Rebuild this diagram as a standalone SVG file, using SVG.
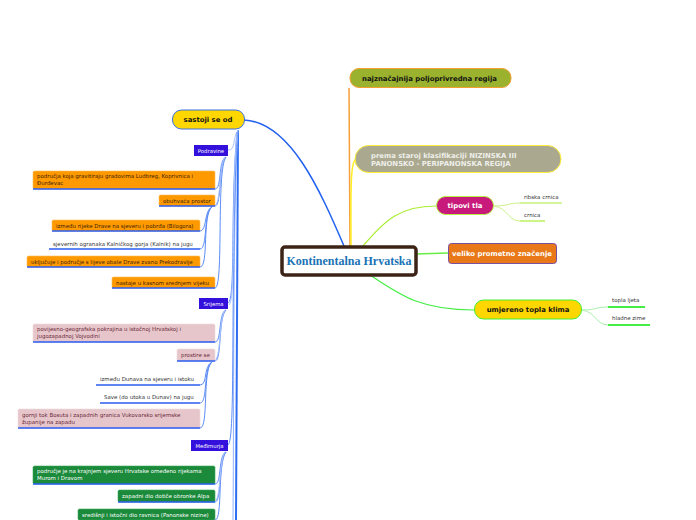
<svg xmlns="http://www.w3.org/2000/svg" width="696" height="520" viewBox="0 0 696 520">
<style>
text{font-family:"DejaVu Sans","Liberation Sans",sans-serif}
.m{font-size:6.9px;font-weight:bold}
.s{font-size:5.45px}
.cat{fill:#3410dc}
.ct{fill:#fff;font-size:5.3px}
.or{fill:#ff9900;stroke:#ffc060;stroke-width:0.6}
.ot{fill:#3a2200}
.pk{fill:#e6c6cb;stroke:#f0dadd;stroke-width:0.6}
.pt{fill:#6a2838}
.gr{fill:#1b8a3a;stroke:#3aa85a;stroke-width:0.6}
.gt{fill:#fff}
.ul{stroke:#2a5cf0;stroke-width:1.6;fill:none}
.bl{fill:none;stroke:#5b8cf5;stroke-width:1}
.bl2{fill:none;stroke:#a9c3ff;stroke-width:1}
</style>
<g id="connectors" fill="none">
<path d="M350,246 L349,88" stroke="#f5a03a" stroke-width="1.5"/>
<path d="M351,246 C351,200 350,165 355,160" stroke="#ffee22" stroke-width="1.5"/>
<path d="M363,246 C385,220 400,206 436,206" stroke="#aaee33" stroke-width="1.2"/>
<path d="M416,254 L448,253" stroke="#66ee44" stroke-width="1.5"/>
<path d="M370,275 C400,295 420,310 474,310" stroke="#44ee44" stroke-width="1.2"/>
<path d="M344,246 C320,190 290,122 244,120" stroke="#2060ee" stroke-width="1.5"/>
<path d="M494,206 C508,206 508,203 520,203" stroke="#ccf088" stroke-width="1"/>
<path d="M494,206 C508,208 508,221 520,221" stroke="#ccf088" stroke-width="1"/>
<path d="M520,203 L562,203" stroke="#aaee33" stroke-width="1.2"/>
<path d="M520,221 L545,221" stroke="#aaee33" stroke-width="1.2"/>
<path d="M582,310 C596,310 596,307 608,307" stroke="#aaf0aa" stroke-width="1"/>
<path d="M582,310 C596,312 596,325 608,325" stroke="#aaf0aa" stroke-width="1"/>
<path d="M608,307 L645,307" stroke="#44ee44" stroke-width="2"/>
<path d="M608,325 L650,325" stroke="#44ee44" stroke-width="2"/>
<path d="M238,130 L236,520" stroke="#2f6ef0" stroke-width="2"/>
<path d="M238,130 C233,200 234,400 233,520" stroke="#8fb2ff" stroke-width="1"/>
<path d="M238,130 C232,140 236,150 228,150" class="bl2"/>
<path d="M237,132 C230,210 236,300 228,303" class="bl"/>
<path d="M237,132 C230,300 236,440 228,445" class="bl"/>
<path d="M237,132 C231,200 236,300 229,305" class="bl2"/>
<path d="M226,157 C218,160 222,189 215,189" class="bl"/>
<path d="M226,157 C218,165 222,206 215,206" class="bl"/>
<path d="M226,157 C216,170 224,288 215,288" class="bl"/>
<path d="M225,157 C219,165 221,206 214,206" class="bl2"/>
<path d="M212,207 C204,210 207,231 200,231" class="bl"/>
<path d="M212,207 C203,212 208,249 200,249" class="bl"/>
<path d="M212,207 C202,214 209,267 200,267" class="bl"/>
<path d="M226,310 C218,313 222,342 215,342" class="bl"/>
<path d="M226,310 C218,318 222,361 215,361" class="bl"/>
<path d="M225,310 C219,318 221,361 214,361" class="bl2"/>
<path d="M212,362 C203,366 208,385 200,385" class="bl"/>
<path d="M212,362 C203,368 208,403 200,403" class="bl"/>
<path d="M212,362 C202,370 209,428 200,428" class="bl"/>
<path d="M226,452 C218,455 222,484 215,484" class="bl"/>
<path d="M226,452 C218,460 222,502 215,502" class="bl"/>
<path d="M226,452 C217,464 223,520 215,520" class="bl"/>
<path d="M225,452 C219,460 221,502 214,502" class="bl2"/>
</g>
<g id="center">
<rect x="282" y="247" width="134" height="28" rx="3" fill="#fff" stroke="#3d2316" stroke-width="3.5"/>
<text x="349" y="265" text-anchor="middle" style="font-family:'Liberation Serif',serif" font-size="12" font-weight="bold" fill="#1a73b5">Kontinentalna Hrvatska</text>
</g>
<g id="n-regija">
<rect x="350" y="68.5" width="161" height="19" rx="9" fill="#9bb22e" stroke="#f0a030" stroke-width="1"/>
<text x="362" y="80.5" class="m" fill="#111">najznačajnija poljoprivredna regija</text>
</g>
<g id="n-prema">
<rect x="355" y="145.5" width="206" height="27" rx="13.5" fill="#aaa98f" stroke="#ffef3a" stroke-width="1"/>
<text x="371" y="157.5" class="m" font-size="6.8" fill="#eeeeea">prema staroj klasifikaciji NIZINSKA III</text>
<text x="371" y="165.5" class="m" font-size="6.8" fill="#eeeeea">PANONSKO - PERIPANONSKA REGIJA</text>
</g>
<g id="n-tipovi">
<rect x="436.5" y="196.5" width="57" height="18" rx="9" fill="#c81a7a" stroke="#b5f040" stroke-width="1"/>
<text x="465" y="208" class="m" text-anchor="middle" fill="#fff">tipovi tla</text>
</g>
<g id="n-ribska"><text x="524" y="199" class="s" fill="#333">ribska crnica</text></g>
<g id="n-crnica"><text x="524" y="217" class="s" fill="#333">crnica</text></g>
<g id="n-promet">
<rect x="448.5" y="243.5" width="108" height="20" rx="3" fill="#e87818" stroke="#7a50a0" stroke-width="1"/>
<text x="502" y="256" class="m" text-anchor="middle" fill="#fff">veliko prometno značenje</text>
</g>
<g id="n-klima">
<rect x="474.5" y="300" width="107" height="19" rx="9" fill="#ffd700" stroke="#44ee33" stroke-width="1"/>
<text x="528" y="312" class="m" text-anchor="middle" fill="#111">umjereno topla klima</text>
</g>
<g id="n-ljeta"><text x="612" y="302" class="s" fill="#333">topla ljeta</text></g>
<g id="n-zime"><text x="612" y="320" class="s" fill="#333">hladne zime</text></g>
<g id="n-sastoji">
<rect x="172.5" y="110" width="72" height="19" rx="9" fill="#ffd700" stroke="#3a70e0" stroke-width="1"/>
<text x="208" y="122" class="m" text-anchor="middle" fill="#111">sastoji se od</text>
</g>
<g id="n-podravine">
<rect x="194" y="145" width="34" height="11" class="cat"/>
<text x="211" y="152.5" class="ct" text-anchor="middle">Podravine</text>
</g>
<g id="n-p1">
<rect x="33" y="171" width="182" height="18" rx="1.5" class="or"/>
<text x="37" y="178" class="s ot">područja koja gravitiraju gradovima Ludbreg, Koprivnica i</text>
<text x="37" y="185" class="s ot">Đurđevac</text>
<path d="M33,189 L215,189" class="ul"/>
</g>
<g id="n-p2">
<rect x="159" y="195" width="56" height="11" rx="1.5" class="or"/>
<text x="163" y="202.5" class="s ot">obuhvaća prostor</text>
<path d="M159,206 L215,206" class="ul"/>
</g>
<g id="n-p21">
<rect x="52" y="220" width="148" height="11" rx="1.5" class="or"/>
<text x="56" y="227.5" class="s ot">između rijeke Drave na sjeveru i pobrđa (Bilogora)</text>
<path d="M52,231 L200,231" class="ul"/>
</g>
<g id="n-p22">
<text x="53" y="245.5" class="s" fill="#333">sjevernih ogranaka Kalničkog gorja (Kalnik) na jugu</text>
<path d="M49,249 L200,249" class="ul"/>
</g>
<g id="n-p23">
<rect x="27" y="256" width="173" height="11" rx="1.5" class="or"/>
<text x="31" y="263.5" class="s ot">uključuje i područje s lijeve obale Drave zvano Prekodravlje</text>
<path d="M27,267 L200,267" class="ul"/>
</g>
<g id="n-p3">
<rect x="112" y="277" width="103" height="11" rx="1.5" class="or"/>
<text x="116" y="284.5" class="s ot">nastaje u kasnom srednjem vijeku</text>
<path d="M112,288 L215,288" class="ul"/>
</g>
<g id="n-srijema">
<rect x="199" y="298" width="29" height="11" class="cat"/>
<text x="213.5" y="305.5" class="ct" text-anchor="middle">Srijema</text>
</g>
<g id="n-s1">
<rect x="33" y="324" width="182" height="18" rx="1.5" class="pk"/>
<text x="37" y="331" class="s pt">povijesno-geografska pokrajina u istočnoj Hrvatskoj i</text>
<text x="37" y="338" class="s pt">jugozapadnoj Vojvodini</text>
<path d="M33,342 L215,342" class="ul"/>
</g>
<g id="n-s2">
<rect x="177" y="349" width="38" height="12" rx="1.5" class="pk"/>
<text x="181" y="356.5" class="s pt">prostire se</text>
<path d="M177,361 L215,361" class="ul"/>
</g>
<g id="n-s21">
<text x="100" y="380.5" class="s" fill="#333">između Dunava na sjeveru i istoku</text>
<path d="M96,385 L200,385" class="ul"/>
</g>
<g id="n-s22">
<text x="104" y="398.5" class="s" fill="#333">Save (do utoka u Dunav) na jugu</text>
<path d="M100,403 L200,403" class="ul"/>
</g>
<g id="n-s23">
<rect x="18" y="409" width="182" height="19" rx="1.5" class="pk"/>
<text x="22" y="416.5" class="s pt">gornji tok Bosuta i zapadnih granica Vukovarsko srijemske</text>
<text x="22" y="423.5" class="s pt">županije na zapadu</text>
<path d="M18,428 L200,428" class="ul"/>
</g>
<g id="n-medimurja">
<rect x="191" y="440" width="37" height="11" class="cat"/>
<text x="209.5" y="447.5" class="ct" text-anchor="middle">Međimurja</text>
</g>
<g id="n-m1">
<rect x="33" y="466" width="182" height="18" rx="1.5" class="gr"/>
<text x="37" y="473" class="s gt">područje je na krajnjem sjeveru Hrvatske omeđeno rijekama</text>
<text x="37" y="480" class="s gt">Murom i Dravom</text>
<path d="M33,484 L215,484" class="ul"/>
</g>
<g id="n-m2">
<rect x="118" y="490" width="97" height="12" rx="1.5" class="gr"/>
<text x="122" y="498" class="s gt">zapadni dio dotiče obronke Alpa</text>
<path d="M118,502 L215,502" class="ul"/>
</g>
<g id="n-m3">
<rect x="78" y="509" width="137" height="11" rx="1.5" class="gr"/>
<text x="82" y="516.5" class="s gt">središnji i istočni dio ravnica (Panonske nizine)</text>
</g>
</svg>
